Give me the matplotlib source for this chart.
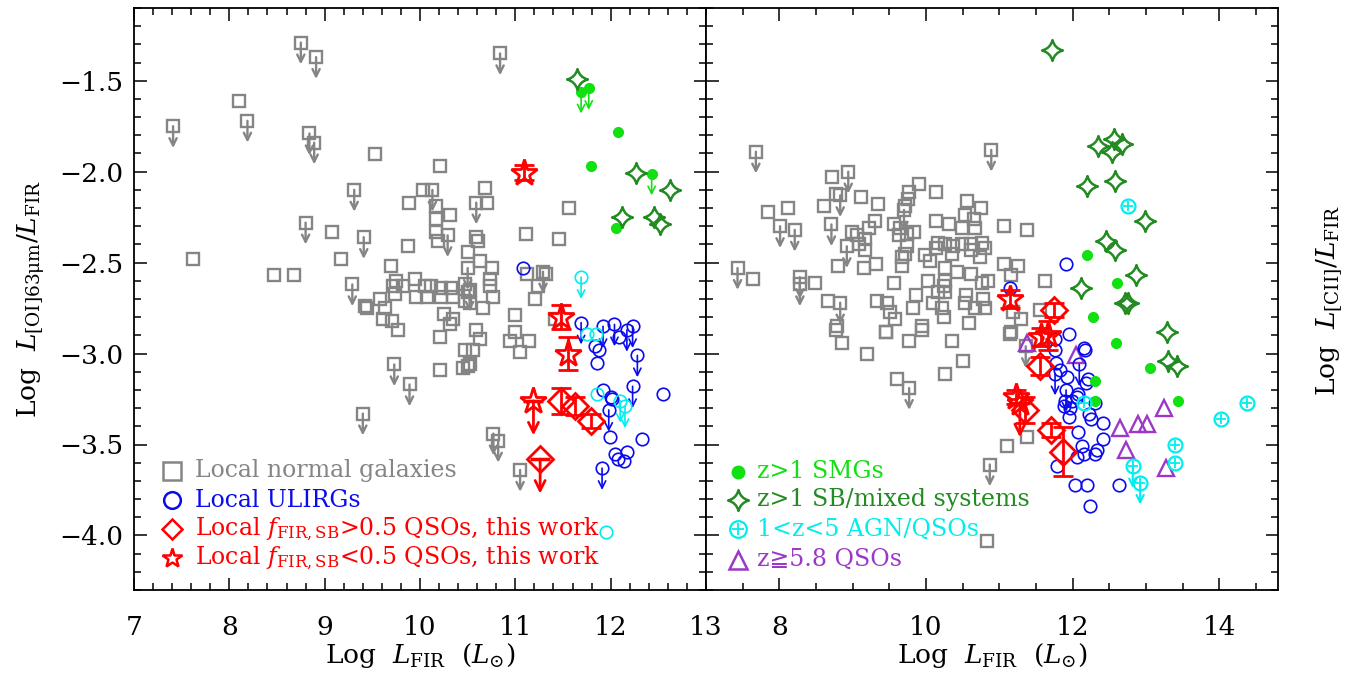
import matplotlib
matplotlib.use('Agg')
import matplotlib.pyplot as plt
from matplotlib.path import Path
from matplotlib.ticker import MultipleLocator

plt.rcParams['font.family'] = ['DejaVu Serif', 'DejaVu Sans']
plt.rcParams['mathtext.fontset'] = 'dejavuserif'

GRAY = '#858585'
BLUE = '#0a0aee'
RED = '#ff0000'
LIME = '#11e011'
FOREST = '#228b22'
CYAN = '#00eeee'
PURPLE = '#9b38c8'

# ---------------- [OI]63um panel ----------------
oi_norm_x = [8.10, 9.53, 10.21, 10.03, 10.68, 10.70, 9.88, 10.17, 10.31, 10.17,
             10.17, 10.19, 10.59, 10.61, 11.56, 11.11, 11.46, 9.08, 9.87, 10.50,
             9.17, 7.62, 8.47, 8.68, 9.70, 10.63, 10.75, 10.73, 11.12, 11.32,
             11.24, 11.21, 9.75, 9.72, 9.82, 9.95, 10.05, 10.12, 10.22, 10.33,
             10.47, 10.50, 10.73, 10.77, 9.58, 9.96, 9.74, 10.07, 10.22, 10.35,
             10.47, 9.42, 9.44, 9.63, 9.61, 9.71, 9.77, 10.52, 10.66, 10.25,
             10.35, 10.31, 10.21, 10.59, 10.63, 10.47, 10.56, 11.00, 11.00, 10.94,
             11.14, 11.05, 11.42, 10.21, 10.45, 10.50, 10.52]
oi_norm_y = [-1.61, -1.90, -1.97, -2.10, -2.09, -2.17, -2.17, -2.19, -2.24, -2.26,
             -2.33, -2.38, -2.36, -2.38, -2.20, -2.34, -2.37, -2.33, -2.41, -2.44,
             -2.48, -2.48, -2.57, -2.57, -2.52, -2.49, -2.53, -2.59, -2.56, -2.56,
             -2.63, -2.70, -2.60, -2.63, -2.63, -2.59, -2.63, -2.63, -2.64, -2.64,
             -2.62, -2.66, -2.63, -2.69, -2.70, -2.69, -2.67, -2.69, -2.69, -2.69,
             -2.71, -2.74, -2.75, -2.75, -2.81, -2.82, -2.87, -2.72, -2.75, -2.78,
             -2.81, -2.84, -2.91, -2.87, -2.92, -2.98, -2.98, -2.79, -2.88, -2.93,
             -2.93, -2.99, -2.81, -3.09, -3.08, -3.07, -3.06]
oi_norm_ul_x = [8.75, 8.91, 10.84, 7.41, 8.19, 8.84, 8.89, 9.31, 10.13, 10.59,
                8.80, 9.41, 10.29, 9.29, 11.29, 10.52, 10.50, 9.73, 9.89, 9.40,
                10.77, 10.82, 11.05]
oi_norm_ul_y = [-1.29, -1.37, -1.35, -1.75, -1.72, -1.79, -1.84, -2.10, -2.10, -2.17,
                -2.28, -2.36, -2.35, -2.62, -2.55, -2.65, -2.53, -3.06, -3.17, -3.33,
                -3.44, -3.48, -3.64]

oi_ulirg_x = [11.08, 12.09, 11.84, 11.88, 11.86, 11.92, 12.00, 12.01, 12.55, 11.99,
              12.33, 12.05, 12.17, 12.08, 12.14]
oi_ulirg_y = [-2.53, -2.91, -2.96, -2.98, -3.05, -3.20, -3.24, -3.25, -3.22, -3.46,
              -3.47, -3.55, -3.54, -3.58, -3.59]
oi_ulirg_ul_x = [11.69, 11.92, 12.04, 12.17, 12.23, 12.28, 11.98, 12.23, 11.91]
oi_ulirg_ul_y = [-2.83, -2.85, -2.84, -2.87, -2.85, -3.01, -3.31, -3.18, -3.63]

oi_agn_x = [11.75, 11.85, 11.86, 11.95]
oi_agn_y = [-2.89, -2.89, -3.22, -3.98]
oi_agn_ul_x = [11.69, 12.10, 12.15]
oi_agn_ul_y = [-2.58, -3.26, -3.29]

oi_smg_x = [12.08, 11.79, 12.06]
oi_smg_y = [-1.78, -1.97, -2.31]
oi_smg_ul_x = [11.69, 11.77, 12.43]
oi_smg_ul_y = [-1.56, -1.54, -2.01]

oi_sb_x = [11.65, 12.27, 12.12, 12.45, 12.52, 12.62]
oi_sb_y = [-1.49, -2.005, -2.25, -2.25, -2.29, -2.10]

oi_lo_x = [11.09, 11.48, 11.55]
oi_lo_y = [-2.005, -2.80, -3.00]
oi_lo_err = [0.04, 0.065, 0.09]
oi_lo_ul_x = [11.19]
oi_lo_ul_y = [-3.26]

oi_hi_x = [11.48, 11.63, 11.79]
oi_hi_y = [-3.26, -3.29, -3.37]
oi_hi_err = [0.07, 0.05, 0.04]
oi_hi_ul_x = [11.26]
oi_hi_ul_y = [-3.58]

# ---------------- [CII] panel ----------------
cii_norm_x = [8.72, 7.84, 8.12, 8.61, 9.12, 9.35, 8.77, 9.91, 9.77, 10.13,
              9.76, 9.72, 10.56, 10.75, 10.53, 10.65, 10.13, 10.31, 10.49, 10.67,
              11.07, 11.38, 9.31, 9.22, 9.56, 9.65, 9.83, 8.99, 9.06, 9.17,
              9.63, 9.74, 10.17, 10.26, 10.37, 10.49, 10.62, 10.76, 10.80, 10.13,
              10.35, 10.62, 10.74, 10.06, 9.99, 9.74, 9.71, 9.67, 9.08, 9.17,
              8.80, 9.32, 9.16, 9.67, 10.26, 10.42, 10.62, 10.84, 10.76, 10.03,
              10.26, 10.25, 9.57, 11.07, 11.25, 11.16, 11.62, 7.64, 8.49, 9.86,
              10.17, 10.26, 10.54, 10.78, 8.67, 9.33, 9.47, 10.10, 10.53, 10.67,
              10.80, 9.51, 9.82, 10.22, 9.58, 10.25, 10.58, 8.78, 9.94, 9.45,
              11.16, 11.19, 11.30, 11.55, 8.86, 9.20, 9.77, 10.36, 10.50, 10.26,
              9.60, 9.45, 9.94, 8.77, 11.14, 11.11, 11.38, 10.83]
cii_norm_y = [-2.03, -2.22, -2.20, -2.19, -2.14, -2.18, -2.12, -2.07, -2.11, -2.11,
              -2.15, -2.19, -2.16, -2.20, -2.24, -2.26, -2.27, -2.29, -2.31, -2.31,
              -2.30, -2.32, -2.27, -2.31, -2.29, -2.31, -2.33, -2.33, -2.35, -2.37,
              -2.35, -2.34, -2.39, -2.40, -2.41, -2.40, -2.40, -2.39, -2.42, -2.42,
              -2.45, -2.43, -2.47, -2.49, -2.46, -2.41, -2.45, -2.47, -2.40, -2.43,
              -2.52, -2.51, -2.53, -2.52, -2.53, -2.55, -2.56, -2.60, -2.61, -2.60,
              -2.60, -2.63, -2.61, -2.51, -2.52, -2.57, -2.60, -2.59, -2.61, -2.68,
              -2.66, -2.66, -2.68, -2.70, -2.71, -2.71, -2.72, -2.72, -2.72, -2.75,
              -2.75, -2.77, -2.75, -2.75, -2.81, -2.80, -2.83, -2.85, -2.85, -2.88,
              -2.88, -2.77, -2.81, -2.76, -2.94, -3.00, -2.93, -2.93, -3.04, -3.11,
              -3.14, -2.88, -2.87, -2.87, -2.89, -3.51, -3.46, -4.03]
cii_norm_ul_x = [7.68, 10.89, 8.94, 8.83, 8.01, 8.21, 8.71, 8.92, 7.43, 8.28,
                 8.28, 8.83, 9.70, 9.77, 10.87, 11.36]
cii_norm_ul_y = [-1.89, -1.88, -2.00, -2.13, -2.30, -2.32, -2.29, -2.41, -2.53, -2.58,
                 -2.62, -2.72, -2.21, -3.19, -3.61, -2.96]

cii_ulirg_x = [11.91, 11.14, 11.95, 11.76, 11.76, 12.15, 12.17, 11.77, 11.83, 11.92,
               12.21, 12.18, 12.07, 12.06, 11.90, 11.99, 11.88, 11.97, 11.95, 12.31,
               12.22, 12.25, 12.41, 12.07, 12.41, 12.13, 12.15, 12.33, 12.31, 12.06,
               11.79, 12.03, 12.19, 12.63, 12.24]
cii_ulirg_y = [-2.51, -2.64, -2.89, -2.92, -2.98, -2.97, -2.98, -3.05, -3.09, -3.13,
               -3.14, -3.16, -3.22, -3.24, -3.26, -3.26, -3.29, -3.30, -3.35, -3.27,
               -3.33, -3.36, -3.38, -3.43, -3.47, -3.51, -3.55, -3.53, -3.55, -3.57,
               -3.62, -3.72, -3.72, -3.72, -3.84]
cii_ulirg_ul_x = [12.09, 11.76, 11.91]
cii_ulirg_ul_y = [-3.06, -3.11, -3.20]

cii_agn_x = [12.75, 12.16, 14.02, 14.38, 13.39, 13.39]
cii_agn_y = [-2.19, -3.27, -3.36, -3.27, -3.50, -3.60]
cii_agn_ul_x = [12.82, 12.92]
cii_agn_ul_y = [-3.62, -3.71]

cii_hzq_x = [13.25, 12.65, 12.89, 13.01, 12.73, 13.27, 12.05, 11.38]
cii_hzq_y = [-3.30, -3.41, -3.39, -3.39, -3.53, -3.63, -3.01, -2.94]

cii_smg_x = [12.19, 12.61, 12.28, 12.59, 13.06, 12.31, 12.31, 13.44]
cii_smg_y = [-2.46, -2.61, -2.80, -2.94, -3.08, -3.15, -3.26, -3.26]

cii_sb_x = [11.72, 12.34, 12.56, 12.67, 12.53, 12.20, 12.58, 12.99, 12.46, 12.58,
            12.87, 12.12, 12.71, 12.75, 13.29, 13.30, 13.42]
cii_sb_y = [-1.33, -1.86, -1.82, -1.85, -1.89, -2.08, -2.05, -2.27, -2.38, -2.43,
            -2.57, -2.64, -2.72, -2.72, -2.88, -3.04, -3.07]

cii_lo_x = [11.15, 11.57, 11.66, 11.23]
cii_lo_y = [-2.70, -2.91, -2.90, -3.24]
cii_lo_err = [0.05, 0.05, 0.08, 0.04]
cii_lo_ul_x = [11.28]
cii_lo_ul_y = [-3.27]

cii_hi_x = [11.74, 11.55, 11.35, 11.70, 11.87]
cii_hi_y = [-2.76, -3.07, -3.31, -3.42, -3.54]
cii_hi_err = [0.04, 0.05, 0.07, 0.04, 0.135]


def four_star(inner=0.2):
    # concave four-pointed star built from quadratic curves
    tips = [(0, 1), (1, 0), (0, -1), (-1, 0)]
    verts = [tips[0]]
    codes = [Path.MOVETO]
    for i in range(4):
        a, b = tips[i], tips[(i + 1) % 4]
        verts += [((a[0] + b[0]) * inner, (a[1] + b[1]) * inner), b]
        codes += [Path.CURVE3, Path.CURVE3]
    verts.append((0, 0))
    codes.append(Path.CLOSEPOLY)
    return Path(verts, codes)


STAR4 = four_star()


def down_arrows(ax, xs, ys, color, length=0.12, lw=1.5, scale=13, z=3):
    for x, y in zip(xs, ys):
        ax.annotate('', xy=(x, y - length), xytext=(x, y),
                    arrowprops=dict(arrowstyle='->', color=color, lw=lw,
                                    mutation_scale=scale, shrinkA=0, shrinkB=0),
                    zorder=z)


def open_pts(ax, xs, ys, marker, color, ms, mew, z):
    ax.plot(xs, ys, ls='none', marker=marker, ms=ms, mfc='none', mec=color,
            mew=mew, zorder=z)


def oplus(ax, xs, ys, ms=10, transform=None, clip=True):
    kw = {} if transform is None else {'transform': transform}
    ax.plot(xs, ys, ls='none', marker='o', ms=ms, mfc='none', mec=CYAN, mew=1.6,
            zorder=5, clip_on=clip, **kw)
    ax.plot(xs, ys, ls='none', marker='+', ms=ms * 0.7, mec=CYAN, mew=1.3,
            zorder=5, clip_on=clip, **kw)


def red_points(ax, x, y, err, marker, ms):
    ax.errorbar(x, y, yerr=err, fmt='none', ecolor=RED, elinewidth=2,
                capsize=7, capthick=2, zorder=8)
    open_pts(ax, x, y, marker, RED, ms, 2.0, 9)


def red_limits(ax, x, y, marker, ms):
    open_pts(ax, x, y, marker, RED, ms, 2.0, 9)
    ax.plot(x, y, ls='none', marker='_', ms=14, mec=RED, mew=2.5, zorder=9)
    down_arrows(ax, x, y, RED, length=0.19, lw=2.0, scale=18, z=9)


fig = plt.figure(figsize=(13.63, 6.77), dpi=100)
ax1 = fig.add_axes([134 / 1363, 87 / 677, 572 / 1363, 582 / 677])
ax2 = fig.add_axes([706 / 1363, 87 / 677, 572 / 1363, 582 / 677])

# left panel: [OI]63um
open_pts(ax1, oi_norm_x, oi_norm_y, 's', GRAY, 8, 1.7, 2)
open_pts(ax1, oi_norm_ul_x, oi_norm_ul_y, 's', GRAY, 8, 1.7, 2)
down_arrows(ax1, oi_norm_ul_x, oi_norm_ul_y, GRAY, lw=1.7, z=2)
open_pts(ax1, oi_ulirg_x + oi_ulirg_ul_x, oi_ulirg_y + oi_ulirg_ul_y, 'o', BLUE, 9, 1.2, 4)
down_arrows(ax1, oi_ulirg_ul_x, oi_ulirg_ul_y, BLUE, lw=1.2, z=4)
open_pts(ax1, oi_agn_x + oi_agn_ul_x, oi_agn_y + oi_agn_ul_y, 'o', CYAN, 9, 1.2, 4)
down_arrows(ax1, oi_agn_ul_x, oi_agn_ul_y, CYAN, lw=1.2, z=4)
ax1.plot(oi_smg_x + oi_smg_ul_x, oi_smg_y + oi_smg_ul_y, ls='none', marker='o',
         ms=7, color=LIME, zorder=5)
down_arrows(ax1, oi_smg_ul_x, oi_smg_ul_y, LIME, lw=1.2, z=5)
open_pts(ax1, oi_sb_x, oi_sb_y, STAR4, FOREST, 15, 1.8, 5)
red_points(ax1, oi_lo_x, oi_lo_y, oi_lo_err, '*', 20)
red_limits(ax1, oi_lo_ul_x, oi_lo_ul_y, '*', 20)
red_points(ax1, oi_hi_x, oi_hi_y, oi_hi_err, 'D', 13)
red_limits(ax1, oi_hi_ul_x, oi_hi_ul_y, 'D', 13)

# right panel: [CII]
open_pts(ax2, cii_norm_x, cii_norm_y, 's', GRAY, 8, 1.7, 2)
open_pts(ax2, cii_norm_ul_x, cii_norm_ul_y, 's', GRAY, 8, 1.7, 2)
down_arrows(ax2, cii_norm_ul_x, cii_norm_ul_y, GRAY, lw=1.7, z=2)
open_pts(ax2, cii_hzq_x, cii_hzq_y, '^', PURPLE, 11, 1.7, 3)
open_pts(ax2, cii_ulirg_x + cii_ulirg_ul_x, cii_ulirg_y + cii_ulirg_ul_y, 'o', BLUE, 9, 1.2, 4)
down_arrows(ax2, cii_ulirg_ul_x, cii_ulirg_ul_y, BLUE, lw=1.2, z=4)
ax2.plot(cii_smg_x, cii_smg_y, ls='none', marker='o', ms=7, color=LIME, zorder=5)
open_pts(ax2, cii_sb_x, cii_sb_y, STAR4, FOREST, 15, 1.8, 5)
oplus(ax2, cii_agn_x + cii_agn_ul_x, cii_agn_y + cii_agn_ul_y)
down_arrows(ax2, cii_agn_ul_x, cii_agn_ul_y, CYAN, lw=1.5, z=5)
red_points(ax2, cii_lo_x, cii_lo_y, cii_lo_err, '*', 20)
red_limits(ax2, cii_lo_ul_x, cii_lo_ul_y, '*', 20)
red_points(ax2, cii_hi_x, cii_hi_y, cii_hi_err, 'D', 13)

# axes, ticks, frames
for ax in (ax1, ax2):
    ax.set_ylim(-4.3, -1.1)
    ax.yaxis.set_major_locator(MultipleLocator(0.5))
    ax.yaxis.set_minor_locator(MultipleLocator(0.1))
    ax.tick_params(which='both', direction='in', top=True, right=True, width=1.1)
    ax.tick_params(which='major', length=9)
    ax.tick_params(which='minor', length=5)
    ax.tick_params(axis='x', which='major', pad=18, labelsize=19)
    ax.tick_params(axis='y', labelsize=19, pad=8)
    for s in ax.spines.values():
        s.set_linewidth(1.3)
    ax.set_xlabel(r'Log  $L_{\mathrm{FIR}}$  $(L_{\odot})$', fontsize=19)
    ax.xaxis.set_label_coords(0.5, -0.088)

ax1.set_xlim(7, 13)
ax1.xaxis.set_major_locator(MultipleLocator(1))
ax1.xaxis.set_minor_locator(MultipleLocator(0.2))
ax1.set_yticks([-4.0, -3.5, -3.0, -2.5, -2.0, -1.5])
ax1.set_yticklabels(['\u22124.0', '\u22123.5', '\u22123.0', '\u22122.5', '\u22122.0', '\u22121.5'])
ax1.set_ylabel(r'Log  $L_{\mathrm{[OI]63\mu m}}/L_{\mathrm{FIR}}$', fontsize=19)
ax1.yaxis.set_label_coords(-0.152, 0.5)

ax2.set_xlim(7, 14.8)
ax2.set_xticks([8, 10, 12, 14])
ax2.xaxis.set_minor_locator(MultipleLocator(0.5))
ax2.tick_params(axis='y', labelleft=False)
fig.text(1330 / 1363, 0.557, r'Log  $L_{\mathrm{[CII]}}/L_{\mathrm{FIR}}$', fontsize=19,
         rotation=90, ha='center', va='center')

# legends
leg1 = [('s', GRAY, 13, 'Local normal galaxies'),
        ('o', BLUE, 12, 'Local ULIRGs'),
        ('D', RED, 10, r'Local $f_{\mathrm{FIR,SB}}$>0.5 QSOs, this work'),
        ('*', RED, 15, r'Local $f_{\mathrm{FIR,SB}}$<0.5 QSOs, this work')]
for (mk, c, ms, lab), yy in zip(leg1, [0.2045, 0.1546, 0.1048, 0.055]):
    ax1.plot([0.066], [yy], marker=mk, ms=ms, mfc='none', mec=c, mew=1.8,
             transform=ax1.transAxes, clip_on=False, zorder=10)
    ax1.text(0.107, yy, lab, color=c, fontsize=17, va='center', ha='left',
             transform=ax1.transAxes)

ax2.plot([0.056], [0.203], marker='o', ms=9, color=LIME, transform=ax2.transAxes)
ax2.plot([0.056], [0.155], marker=STAR4, ms=15, mfc='none', mec=FOREST, mew=1.8,
         transform=ax2.transAxes)
oplus(ax2, [0.056], [0.105], ms=12, transform=ax2.transAxes)
ax2.plot([0.056], [0.052], marker='^', ms=13, mfc='none', mec=PURPLE, mew=1.8,
         transform=ax2.transAxes)
leg2 = [('z>1 SMGs', LIME), ('z>1 SB/mixed systems', FOREST),
        ('1<z<5 AGN/QSOs', CYAN), ('z\u22675.8 QSOs', PURPLE)]
for (lab, c), yy in zip(leg2, [0.203, 0.155, 0.105, 0.052]):
    ax2.text(0.089, yy, lab, color=c, fontsize=17, va='center', ha='left',
             transform=ax2.transAxes)

fig.savefig('out.png', dpi=100)
